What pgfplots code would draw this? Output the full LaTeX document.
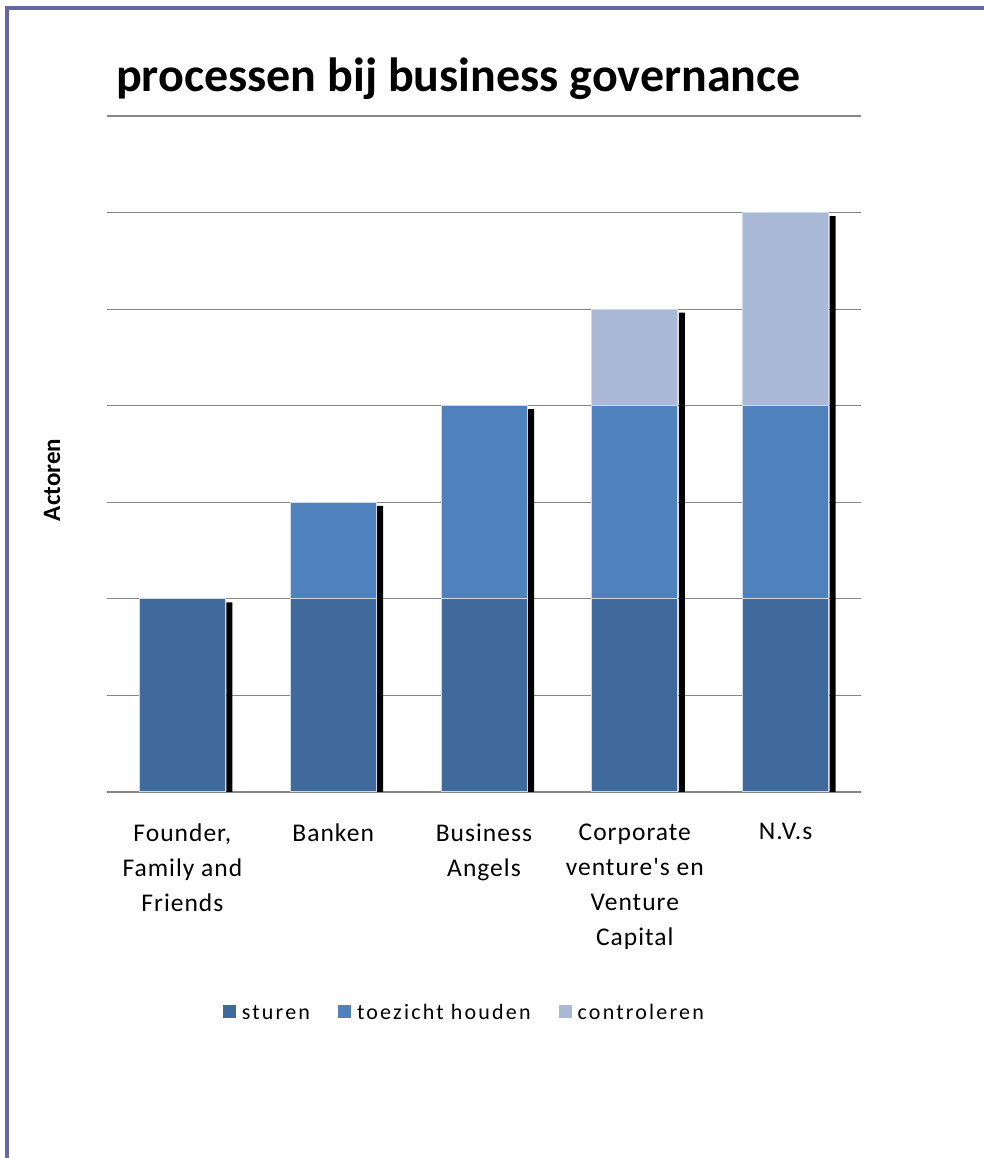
\documentclass[border=0pt]{standalone}
\usepackage{fontspec}
\setmainfont{Carlito}
\usepackage{pgfplots}
\pgfplotsset{compat=1.18}
\definecolor{cA}{RGB}{63,106,155}
\definecolor{cB}{RGB}{79,129,189}
\definecolor{cC}{RGB}{169,185,214}
\definecolor{framec}{RGB}{104,104,158}
\definecolor{gridc}{RGB}{134,134,134}
\definecolor{barline}{RGB}{205,218,236}
\newfontfamily\lblfont[LetterSpace=4]{Carlito}
\newfontfamily\legfont[LetterSpace=10]{Carlito}
\begin{document}
\begin{tikzpicture}[x=1pt,y=1pt]
\useasboundingbox (0,0) rectangle (984,1158);
\fill[white] (0,0) rectangle (984,1158);
\draw[framec, line width=4pt] (7,0) -- (7,1150) -- (984,1150);
\node[anchor=base west, font=\bfseries\fontsize{48}{56}\selectfont, inner sep=0] at (116,1066) {processen bij business governance};
\node[rotate=90, font=\bfseries\fontsize{25}{30}\selectfont] at (52,678) {Actoren};

\begin{axis}[at={(107pt,366pt)}, anchor=south west, scale only axis,
  width=754pt, height=676pt, xmin=-0.5, xmax=4.5, ymin=0, ymax=7,
  ytick={0,...,7}, xtick=\empty, yticklabels={}, ymajorgrids,
  grid style={gridc, line width=1.2pt}, axis line style={draw=none},
  major tick length=0]
\addplot[ybar, bar width=6pt, bar shift=47pt, fill=black, draw=none] coordinates {(0,1.964) (1,2.964) (2,3.964) (3,4.964) (4,5.964)};
\end{axis}

\begin{axis}[at={(107pt,366pt)}, anchor=south west, scale only axis,
  width=754pt, height=676pt, xmin=-0.5, xmax=4.5, ymin=0, ymax=7,
  ybar stacked, bar width=86pt,
  ytick=\empty, xtick={0,...,4},
  xticklabels={{Founder,\\Family and\\Friends}, Banken, {Business\\Angels}, {Corporate\\venture's en\\Venture\\Capital}, N.V.s},
  xticklabel style={font=\lblfont\fontsize{25.5}{35}\selectfont, align=center, anchor=north, yshift=-28pt},
  axis line style={draw=none}, major tick length=0,
  legend columns=-1,
  legend style={at={(0.474,-0.327)}, anchor=center, draw=none, fill=none,
    font=\legfont\fontsize{22}{26}\selectfont,
    /tikz/every odd column/.append style={column sep=4pt},
    /tikz/every even column/.append style={column sep=26pt}},
  legend image code/.code={\fill[#1, draw=none] (0pt,-5pt) rectangle (13pt,8pt);}]
\addplot[fill=cA, draw=barline, line width=1pt] coordinates {(0,2) (1,2) (2,2) (3,2) (4,2)};
\addplot[fill=cB, draw=barline, line width=1pt] coordinates {(0,0) (1,1) (2,2) (3,2) (4,2)};
\addplot[fill=cC, draw=barline, line width=1pt] coordinates {(0,0) (1,0) (2,0) (3,1) (4,2)};
\legend{sturen, toezicht houden, controleren}
\end{axis}
\end{tikzpicture}
\end{document}
